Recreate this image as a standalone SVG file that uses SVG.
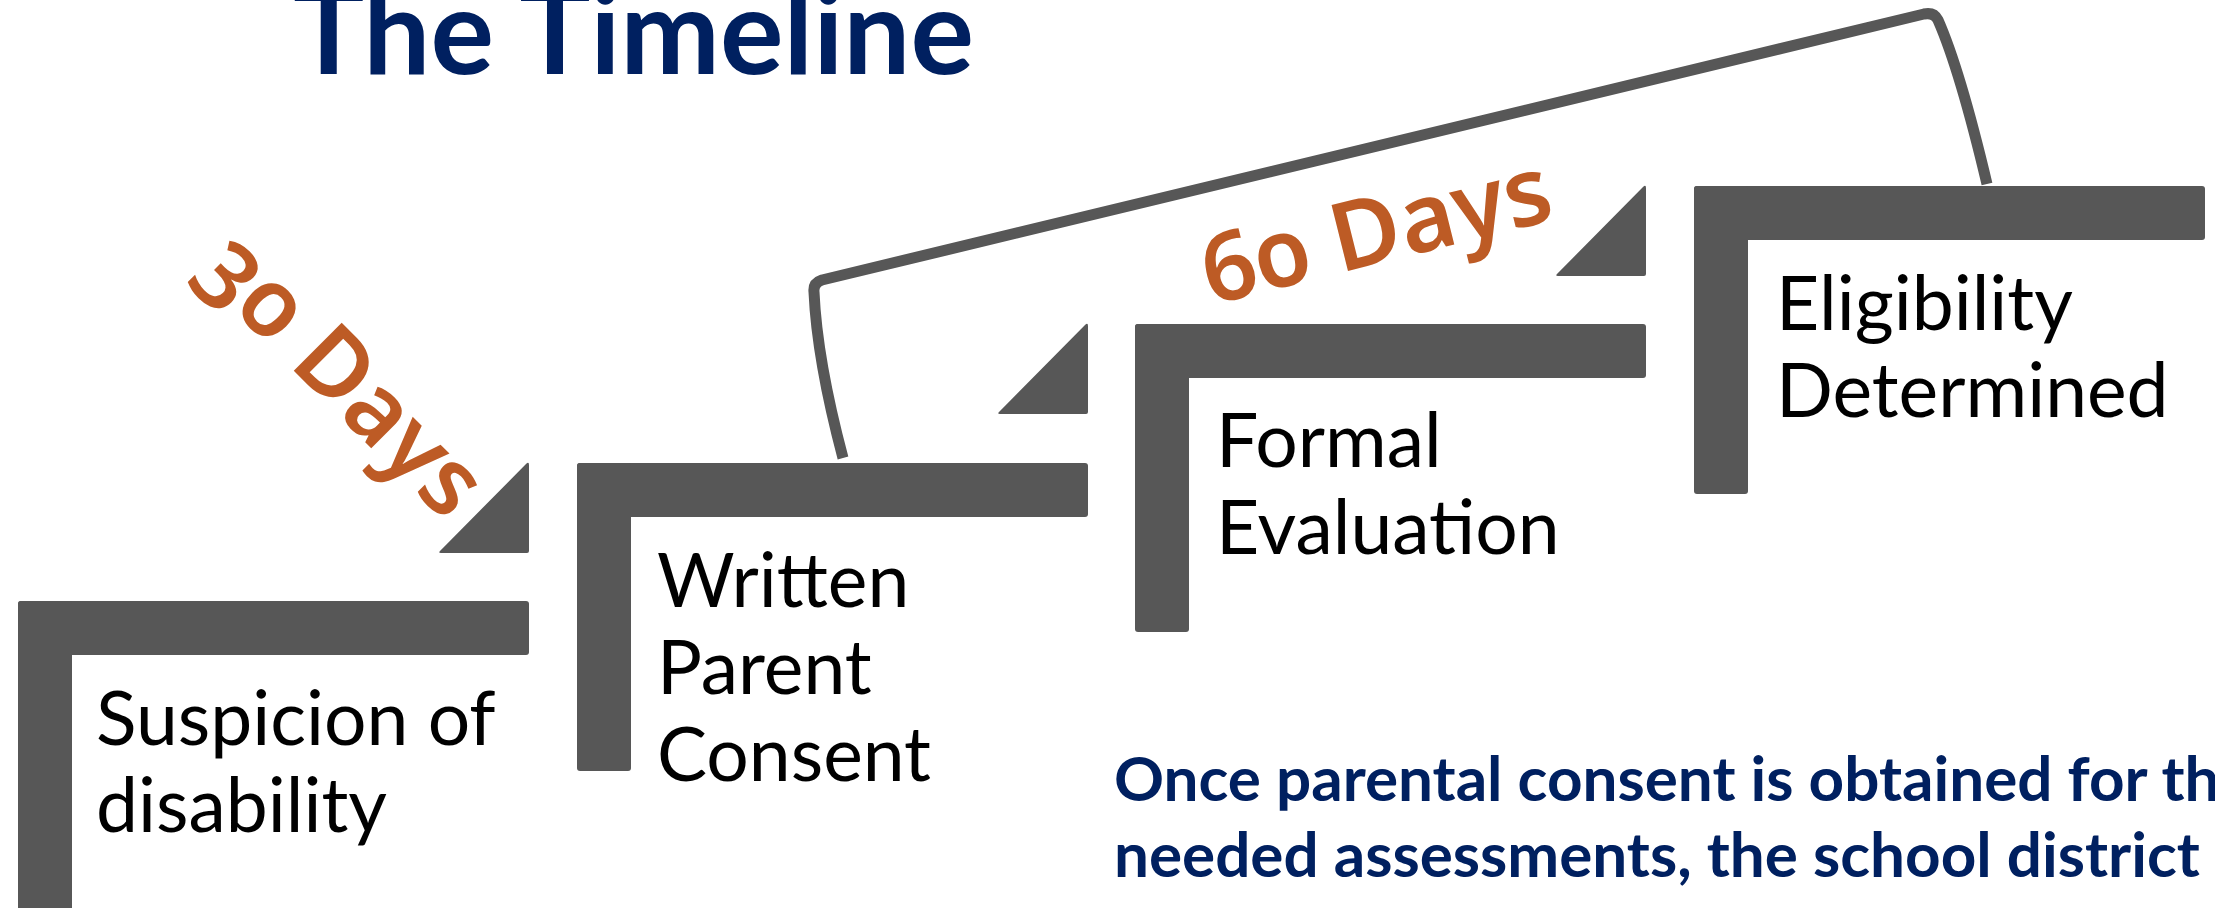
<svg xmlns="http://www.w3.org/2000/svg" width="2215" height="908" viewBox="0 0 2215 908">
  <defs>
    <style>
      .bar { fill: #575757; }
      .label { font-family: Lato, "Liberation Sans", sans-serif; font-size: 75px; fill: #000000; }
      .days { font-family: "Noto Sans", Lato, sans-serif; font-size: 95px; font-weight: 600; fill: #BD5B25; font-variant-numeric: oldstyle-nums; font-feature-settings: "onum" 1; }
      .title { font-family: Lato, "Liberation Sans", sans-serif; font-size: 119px; font-weight: bold; fill: #002060; }
      .note { font-family: Lato, "Liberation Sans", sans-serif; font-size: 62px; font-weight: bold; fill: #002060; }
      .link { fill: none; stroke: #575757; stroke-width: 11; stroke-linecap: butt; stroke-linejoin: round; }
    </style>
  </defs>

  <rect width="2215" height="908" fill="#ffffff"/>

  <!-- heading, partly above the top edge -->
  <text class="title" x="293" y="74">The Timeline</text>

  <!-- step 1 -->
  <g id="step-suspicion">
    <rect class="bar" x="18" y="601" width="511" height="54" rx="3"/>
    <rect class="bar" x="18" y="601" width="54" height="320" rx="3"/>
    <path class="bar" d="M529,465 L529,551 Q529,553 527,553 L441,553 Q438,553 440,551 L526,464 Q529,461 529,465 Z"/>
    <text class="label" x="96" y="745">Suspicion of</text>
    <text class="label" x="96" y="832">disability</text>
  </g>

  <!-- step 2 -->
  <g id="step-consent">
    <rect class="bar" x="577" y="463" width="511" height="54" rx="3"/>
    <rect class="bar" x="577" y="463" width="54" height="308" rx="3"/>
    <path class="bar" d="M1088,326 L1088,412 Q1088,414 1086,414 L1000,414 Q997,414 999,412 L1085,325 Q1088,322 1088,326 Z"/>
    <text class="label" x="657" y="607">Written</text>
    <text class="label" x="657" y="694">Parent</text>
    <text class="label" x="657" y="781">Consent</text>
  </g>

  <!-- step 3 -->
  <g id="step-evaluation">
    <rect class="bar" x="1135" y="324" width="511" height="54" rx="3"/>
    <rect class="bar" x="1135" y="324" width="54" height="308" rx="3"/>
    <path class="bar" d="M1646,188 L1646,274 Q1646,276 1644,276 L1558,276 Q1555,276 1557,274 L1643,187 Q1646,184 1646,188 Z"/>
    <text class="label" x="1216" y="467">Formal</text>
    <text class="label" x="1216" y="554">Evaluation</text>
  </g>

  <!-- step 4 -->
  <g id="step-eligibility">
    <rect class="bar" x="1694" y="186" width="511" height="54" rx="3"/>
    <rect class="bar" x="1694" y="186" width="54" height="308" rx="3"/>
    <text class="label" x="1776" y="330">Eligibility</text>
    <text class="label" x="1776" y="417">Determined</text>
  </g>

  <!-- interval labels -->
  <g id="label-30-days">
    <text class="days" text-anchor="middle" transform="translate(320,397) rotate(45)">30 Days</text>
  </g>
  <g id="label-60-days">
    <text class="days" text-anchor="middle" transform="translate(1384,262) rotate(-14)">60 Days</text>
  </g>

  <!-- bracket spanning consent to eligibility -->
  <g id="connectors">
    <path class="link" d="M843,458 Q817,360 814,292 Q813,283 822,280 L1924,14 Q1934,12 1938,20 Q1960,70 1987,184"/>
  </g>

  <!-- footnote, running past the right edge -->
  <g id="note">
    <text class="note" x="1114" y="801">Once parental consent is obtained for the</text>
    <text class="note" x="1114" y="877">needed assessments, the school district</text>
  </g>
</svg>
